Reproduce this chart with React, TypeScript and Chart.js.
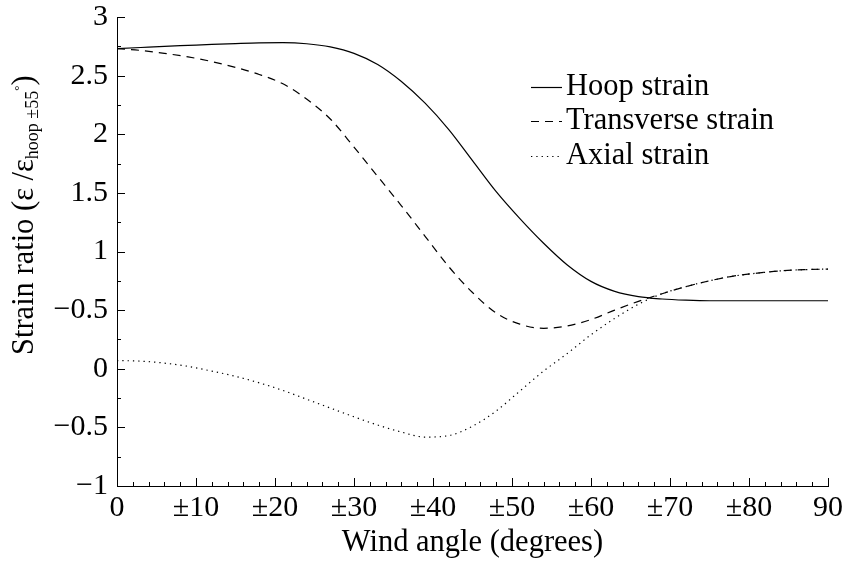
import React, { useEffect, useRef } from "react";
import { Chart, registerables } from "chart.js";

Chart.register(...registerables);

const FAMILY = "'Liberation Serif', 'Times New Roman', Times, serif";

// Wind angle (degrees)
const windAngle = [0, 3, 6, 9, 12, 15, 18, 21, 24, 27, 30, 33, 36, 39, 42, 45, 48, 51, 54, 57, 60, 63, 66, 69, 72, 75, 78, 81, 84, 87, 90];

const hoopStrain = [2.73, 2.74, 2.75, 2.758, 2.766, 2.773, 2.779, 2.781, 2.772, 2.745, 2.69, 2.595, 2.45, 2.265, 2.04, 1.775, 1.51, 1.28, 1.07, 0.885, 0.745, 0.66, 0.615, 0.595, 0.585, 0.58, 0.58, 0.58, 0.58, 0.58, 0.58];

const transverseStrain = [2.73, 2.715, 2.69, 2.66, 2.62, 2.57, 2.51, 2.43, 2.3, 2.13, 1.89, 1.64, 1.39, 1.13, 0.87, 0.65, 0.475, 0.38, 0.345, 0.365, 0.42, 0.5, 0.575, 0.64, 0.7, 0.75, 0.79, 0.815, 0.835, 0.845, 0.85];

const axialStrain = [0.07, 0.065, 0.048, 0.02, -0.02, -0.065, -0.12, -0.185, -0.26, -0.335, -0.41, -0.48, -0.54, -0.583, -0.57, -0.49, -0.36, -0.19, -0.02, 0.13, 0.29, 0.43, 0.55, 0.64, 0.7, 0.75, 0.79, 0.815, 0.835, 0.845, 0.85];

const seriesLabels = ["Hoop strain", "Transverse strain", "Axial strain"];

const xTickValues = [0, 10, 20, 30, 40, 50, 60, 70, 80, 90];
const xTickLabels = ["0", "\u00B110", "\u00B120", "\u00B130", "\u00B140", "\u00B150", "\u00B160", "\u00B170", "\u00B180", "90"];

const yTickValues = [-1, -0.5, 0, 0.5, 1, 1.5, 2, 2.5, 3];
const yTickLabels = ["\u22121", "\u22120.5", "0", "\u22120.5", "1", "1.5", "2", "2.5", "3"];

const xTitle = "Wind angle (degrees)";
const yTitleMain = "Strain ratio (\u03B5 /\u03B5";
const yTitleSub = "hoop \u00B155";
const yTitleSup = "\u00B0";
const yTitleEnd = ")";

const toPoints = (ys: number[]) => windAngle.map((x, i) => ({ x, y: ys[i] }));

const inwardTicksPlugin = {
  id: "inwardTicks",
  afterDraw(chart: any) {
    const { ctx, chartArea, scales } = chart;
    const x = scales.x;
    const y = scales.y;
    ctx.save();
    ctx.strokeStyle = "#000";
    ctx.lineWidth = 1;
    ctx.beginPath();
    for (let v = 0; v <= 90; v += 2) {
      const px = Math.round(x.getPixelForValue(v)) + 0.5;
      const len = v % 10 === 0 ? 8 : 4;
      ctx.moveTo(px, chartArea.bottom);
      ctx.lineTo(px, chartArea.bottom - len);
    }
    for (let i = 0; i <= 16; i++) {
      const v = -1 + i * 0.25;
      const py = Math.round(y.getPixelForValue(v)) + 0.5;
      const len = i % 2 === 0 ? 8 : 4;
      ctx.moveTo(chartArea.left, py);
      ctx.lineTo(chartArea.left + len, py);
    }
    ctx.stroke();
    ctx.restore();
  },
};

const yTitlePlugin = {
  id: "yTitle",
  afterDraw(chart: any) {
    const ctx = chart.ctx;
    ctx.save();
    ctx.translate(33, 355);
    ctx.rotate(-Math.PI / 2);
    ctx.fillStyle = "#000";
    ctx.textAlign = "left";
    ctx.textBaseline = "alphabetic";
    const parts = [
      { t: yTitleMain, font: `30.5px ${FAMILY}`, dy: 0 },
      { t: yTitleSub, font: `18px ${FAMILY}`, dy: 5 },
      { t: yTitleSup, font: `13px ${FAMILY}`, dy: -10 },
      { t: yTitleEnd, font: `30.5px ${FAMILY}`, dy: 0 },
    ];
    let pos = 0;
    for (const p of parts) {
      ctx.font = p.font;
      ctx.fillText(p.t, pos, p.dy);
      pos += ctx.measureText(p.t).width;
    }
    ctx.restore();
  },
};

const legendPlugin = {
  id: "customLegend",
  afterDraw(chart: any) {
    const ctx = chart.ctx;
    const rowsY = [87, 121, 156];
    ctx.save();
    chart.data.datasets.forEach((ds: any, i: number) => {
      const yy = rowsY[i];
      ctx.strokeStyle = ds.borderColor;
      ctx.lineWidth = ds.borderWidth;
      ctx.setLineDash(ds.borderDash || []);
      ctx.beginPath();
      ctx.moveTo(531, yy + 0.5);
      ctx.lineTo(562, yy + 0.5);
      ctx.stroke();
      ctx.setLineDash([]);
      ctx.fillStyle = "#000";
      ctx.font = `30.5px ${FAMILY}`;
      ctx.textAlign = "left";
      ctx.textBaseline = "middle";
      ctx.fillText(ds.label, 566, yy);
    });
    ctx.restore();
  },
};

export default function App() {
  const canvasRef = useRef<HTMLCanvasElement | null>(null);

  useEffect(() => {
    if (!canvasRef.current) return;
    const chart = new Chart(canvasRef.current, {
      type: "line",
      data: {
        datasets: [
          {
            label: seriesLabels[0],
            data: toPoints(hoopStrain),
            borderColor: "#000",
            borderWidth: 1.2,
            pointRadius: 0,
            cubicInterpolationMode: "monotone",
            fill: false,
          },
          {
            label: seriesLabels[1],
            data: toPoints(transverseStrain),
            borderColor: "#000",
            borderWidth: 1.2,
            borderDash: [8, 6],
            pointRadius: 0,
            cubicInterpolationMode: "monotone",
            fill: false,
          },
          {
            label: seriesLabels[2],
            data: toPoints(axialStrain),
            borderColor: "#000",
            borderWidth: 1.2,
            borderDash: [1.3, 4],
            pointRadius: 0,
            cubicInterpolationMode: "monotone",
            fill: false,
          },
        ],
      },
      options: {
        animation: false,
        responsive: false,
        layout: { padding: { top: 17, right: 15, left: 0, bottom: 0 } },
        plugins: {
          legend: { display: false },
          tooltip: { enabled: false },
        },
        scales: {
          x: {
            type: "linear",
            min: 0,
            max: 90,
            grid: { display: false, drawTicks: false },
            border: { display: true, color: "#000", width: 1 },
            afterBuildTicks: (scale: any) => {
              scale.ticks = xTickValues.map((value) => ({ value }));
            },
            ticks: {
              color: "#000",
              padding: 4,
              maxRotation: 0,
              autoSkip: false,
              font: { family: FAMILY, size: 30 },
              callback: (value: any) => {
                const i = xTickValues.indexOf(Number(value));
                return i >= 0 ? xTickLabels[i] : "";
              },
            },
            title: {
              display: true,
              text: xTitle,
              color: "#000",
              font: { family: FAMILY, size: 30.5 },
              padding: { top: 0, bottom: 4 },
            },
            afterFit: (scale: any) => {
              scale.height = 79;
              scale.paddingLeft = 0;
              scale.paddingRight = 0;
            },
          },
          y: {
            type: "linear",
            min: -1,
            max: 3,
            grid: { display: false, drawTicks: false },
            border: { display: true, color: "#000", width: 1 },
            afterBuildTicks: (scale: any) => {
              scale.ticks = yTickValues.map((value) => ({ value }));
            },
            ticks: {
              color: "#000",
              padding: 9,
              autoSkip: false,
              font: { family: FAMILY, size: 30 },
              callback: (value: any) => {
                const i = yTickValues.indexOf(Number(value));
                return i >= 0 ? yTickLabels[i] : "";
              },
            },
            afterFit: (scale: any) => {
              scale.width = 117;
              scale.paddingTop = 0;
              scale.paddingBottom = 0;
            },
          },
        },
      },
      plugins: [inwardTicksPlugin, yTitlePlugin, legendPlugin],
    } as any);
    return () => chart.destroy();
  }, []);

  return (
    <div style={{ position: "absolute", left: 0, top: 0, width: 843, height: 565, background: "#fff" }}>
      <canvas ref={canvasRef} width={843} height={565} style={{ display: "block" }} />
    </div>
  );
}
